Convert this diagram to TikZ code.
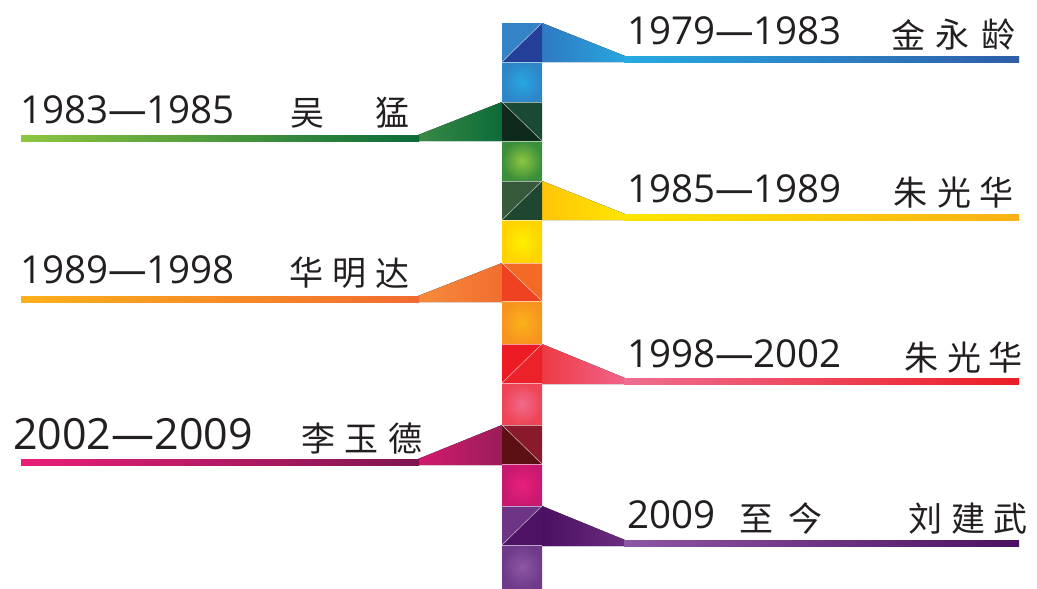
\documentclass[tikz,border=0pt]{standalone}
\usepackage{fontspec}
\setmainfont{Open Sans}
\newfontfamily\cjk{Noto Sans CJK SC}
\usetikzlibrary{shadings}
\definecolor{txt}{HTML}{231F20}
\begin{document}
\begin{tikzpicture}[x=1pt,y=-1pt,
  yr/.style={anchor=base west, inner sep=0pt, text=txt, font=\fontsize{38.5}{40}\selectfont},
  cn/.style={inner sep=0pt, text=txt, font=\cjk\fontsize{34}{35}\selectfont},
  sep/.style={draw=white, draw opacity=0.55, line width=0.6pt}]
\useasboundingbox (0,0) rectangle (1037,589);

% ---------- flags and lines ----------
% 1 (right, blue)
\fill[left color={rgb,255:red,47;green,122;blue,194}, right color={rgb,255:red,39;green,166;blue,223}]
  (542,23) -- (625,56) -- (625,62) -- (542,62) -- cycle;
\fill[left color={rgb,255:red,39;green,170;blue,225}, right color={rgb,255:red,47;green,93;blue,170}]
  (624,56) rectangle (1019,62);
% 3 (left, green)
\fill[left color={rgb,255:red,58;green,138;blue,69}, right color={rgb,255:red,12;green,107;blue,58}]
  (502,102) -- (418,135) -- (418,141) -- (502,141) -- cycle;
\fill[left color={rgb,255:red,141;green,198;blue,63}, right color={rgb,255:red,11;green,107;blue,58}]
  (21,135) rectangle (419,141);
% 5 (right, yellow)
\fill[left color={rgb,255:red,255;green,196;blue,11}, right color={rgb,255:red,255;green,230;blue,0}]
  (542,181) -- (625,214) -- (625,220) -- (542,220) -- cycle;
\fill[left color={rgb,255:red,255;green,230;blue,0}, right color={rgb,255:red,251;green,177;blue,23}]
  (624,214) rectangle (1019,220);
% 7 (left, orange)
\fill[left color={rgb,255:red,245;green,138;blue,60}, right color={rgb,255:red,242;green,110;blue,48}]
  (502,263) -- (418,296) -- (418,302) -- (502,302) -- cycle;
\fill[left color={rgb,255:red,251;green,176;blue,26}, right color={rgb,255:red,242;green,107;blue,50}]
  (21,296) rectangle (419,302);
% 9 (right, red)
\fill[left color={rgb,255:red,238;green,58;blue,69}, right color={rgb,255:red,240;green,101;blue,138}]
  (542,344) -- (625,378) -- (625,384) -- (542,384) -- cycle;
\fill[left color={rgb,255:red,238;green,110;blue,143}, right color={rgb,255:red,237;green,28;blue,36}]
  (624,378) rectangle (1019,384);
% 11 (left, magenta)
\fill[left color={rgb,255:red,211;green,26;blue,110}, right color={rgb,255:red,154;green,29;blue,90}]
  (502,425) -- (418,459) -- (418,465) -- (502,465) -- cycle;
\fill[left color={rgb,255:red,233;green,30;blue,121}, right color={rgb,255:red,126;green,22;blue,80}]
  (21,459) rectangle (419,465);
% 13 (right, purple)
\fill[left color={rgb,255:red,75;green,16;blue,99}, right color={rgb,255:red,106;green,44;blue,127}]
  (542,506) -- (625,540) -- (625,546) -- (542,546) -- cycle;
\fill[left color={rgb,255:red,141;green,86;blue,164}, right color={rgb,255:red,76;green,17;blue,99}]
  (624,540) rectangle (1019,546);

% ---------- column ----------
% 1
\fill[fill={rgb,255:red,52;green,131;blue,198}] (502,23) -- (542,23) -- (502,62) -- cycle;
\fill[fill={rgb,255:red,35;green,63;blue,151}] (542,23) -- (542,62) -- (502,62) -- cycle;
% 2
\fill[inner color={rgb,255:red,39;green,167;blue,224}, outer color={rgb,255:red,46;green,134;blue,200}] (502,62) rectangle (542,102);
% 3
\fill[fill={rgb,255:red,14;green,42;blue,29}] (502,102) -- (542,141) -- (502,141) -- cycle;
\fill[fill={rgb,255:red,26;green,74;blue,51}] (502,102) -- (542,102) -- (542,141) -- cycle;
% 4
\fill[inner color={rgb,255:red,141;green,198;blue,63}, outer color={rgb,255:red,59;green,142;blue,60}] (502,141) rectangle (542,181);
% 5
\fill[fill={rgb,255:red,53;green,89;blue,58}] (502,181) -- (542,181) -- (502,220) -- cycle;
\fill[fill={rgb,255:red,30;green,70;blue,48}] (542,181) -- (542,220) -- (502,220) -- cycle;
% 6
\fill[inner color={rgb,255:red,255;green,240;blue,0}, outer color={rgb,255:red,255;green,210;blue,0}] (502,220) rectangle (542,263);
% 7
\fill[fill={rgb,255:red,238;green,66;blue,35}] (502,263) -- (542,301) -- (502,301) -- cycle;
\fill[fill={rgb,255:red,242;green,106;blue,36}] (502,263) -- (542,263) -- (542,301) -- cycle;
% 8
\fill[inner color={rgb,255:red,251;green,178;blue,26}, outer color={rgb,255:red,247;green,148;blue,30}] (502,301) rectangle (542,344);
% 9
\fill[fill={rgb,255:red,237;green,28;blue,36}] (502,344) -- (542,344) -- (502,383) -- cycle;
\fill[fill={rgb,255:red,236;green,34;blue,42}] (542,344) -- (542,383) -- (502,383) -- cycle;
% 10
\fill[inner color={rgb,255:red,240;green,106;blue,138}, outer color={rgb,255:red,238;green,68;blue,86}] (502,383) rectangle (542,425);
% 11
\fill[fill={rgb,255:red,92;green,16;blue,20}] (502,425) -- (542,464) -- (502,464) -- cycle;
\fill[fill={rgb,255:red,138;green,26;blue,43}] (502,425) -- (542,425) -- (542,464) -- cycle;
% 12
\fill[inner color={rgb,255:red,232;green,32;blue,122}, outer color={rgb,255:red,200;green,24;blue,112}] (502,464) rectangle (542,506);
% 13
\fill[fill={rgb,255:red,110;green,53;blue,134}] (502,506) -- (542,506) -- (502,545) -- cycle;
\fill[fill={rgb,255:red,78;green,18;blue,101}] (542,506) -- (542,545) -- (502,545) -- cycle;
% 14
\fill[inner color={rgb,255:red,142;green,86;blue,165}, outer color={rgb,255:red,110;green,58;blue,138}] (502,545) rectangle (542,589);

% thin separators
\foreach \yy in {62,102,141,181,220,263,301,344,383,425,464,506,545}
  \draw[sep] (502,\yy) -- (542,\yy);
\draw[sep] (502,62) -- (542,23);
\draw[sep] (502,102) -- (542,141);
\draw[sep] (502,220) -- (542,181);
\draw[sep] (502,263) -- (542,301);
\draw[sep] (502,383) -- (542,344);
\draw[sep] (502,425) -- (542,464);
\draw[sep] (502,545) -- (542,506);

% ---------- texts ----------
\node[yr] (y1) at (627,45) {1979—1983};
\node[cn] (c1a) at (908,35) {金};
\node[cn] (c1b) at (952,35) {永};
\node[cn] (c1c) at (998,35) {龄};

\node[yr] (y3) at (20,123) {1983—1985};
\node[cn] (c3a) at (307,113) {吴};
\node[cn] (c3b) at (392,113) {猛};

\node[yr] (y5) at (627,202) {1985—1989};
\node[cn] (c5a) at (910,193) {朱};
\node[cn] (c5b) at (954,193) {光};
\node[cn] (c5c) at (996,193) {华};

\node[yr] (y7) at (20,283) {1989—1998};
\node[cn] (c7a) at (306,273) {华};
\node[cn] (c7b) at (349,273) {明};
\node[cn] (c7c) at (392,273) {达};

\node[yr] (y9) at (627,367) {1998—2002};
\node[cn] (c9a) at (921,358) {朱};
\node[cn] (c9b) at (964,358) {光};
\node[cn] (c9c) at (1005,358) {华};

\node[yr, font=\fontsize{43}{45}\selectfont] (y11) at (13,449) {2002—2009};
\node[cn] (c11a) at (318,439) {李};
\node[cn] (c11b) at (361,439) {玉};
\node[cn] (c11c) at (405,439) {德};

\node[yr] (y13) at (627,528) {2009};
\node[cn] (c13a) at (756,519) {至};
\node[cn] (c13b) at (805,519) {今};
\node[cn] (c13c) at (925,519) {刘};
\node[cn] (c13d) at (968,519) {建};
\node[cn] (c13e) at (1010,519) {武};
\end{tikzpicture}
\end{document}
